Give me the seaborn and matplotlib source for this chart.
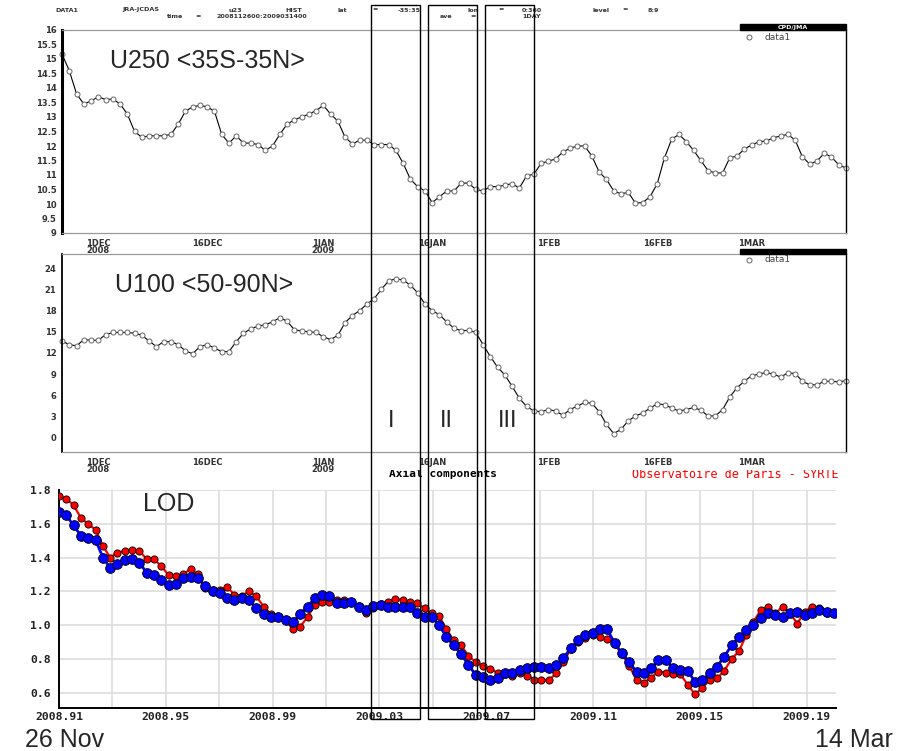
import numpy as np
import pandas as pd
import matplotlib
matplotlib.use("Agg")
import matplotlib.pyplot as plt
from matplotlib.patches import Rectangle
from matplotlib.lines import Line2D
from matplotlib.transforms import Bbox, TransformedBbox
from matplotlib.ticker import FixedLocator
import seaborn as sns

# ---------------------------------------------------------------- data
dates = pd.date_range("2008-11-26", "2009-03-14", freq="D")

u250 = [15.17, 14.6, 13.8, 13.45, 13.55, 13.7, 13.6, 13.62, 13.45, 13.1,
        12.5, 12.3, 12.35, 12.35, 12.35, 12.4, 12.75, 13.2, 13.35, 13.4,
        13.35, 13.2, 12.4, 12.1, 12.35, 12.1, 12.1, 12.05, 11.85, 12.0,
        12.4, 12.75, 12.9, 13.0, 13.1, 13.22, 13.4, 13.1, 12.86, 12.3,
        12.07, 12.2, 12.2, 12.05, 12.05, 12.05, 11.85, 11.4, 10.85, 10.6,
        10.45, 10.05, 10.25, 10.45, 10.45, 10.72, 10.72, 10.5, 10.45, 10.6,
        10.6, 10.65, 10.7, 10.55, 10.97, 11.03, 11.4, 11.48, 11.55, 11.8,
        11.92, 12.0, 12.0, 11.65, 11.1, 10.85, 10.45, 10.35, 10.4, 10.03,
        10.05, 10.25, 10.7, 11.6, 12.24, 12.4, 12.15, 11.85, 11.5, 11.15,
        11.07, 11.07, 11.6, 11.65, 11.9, 12.03, 12.15, 12.17, 12.28, 12.35,
        12.4, 12.2, 11.62, 11.38, 11.48, 11.75, 11.62, 11.35, 11.24]

u100 = [13.66, 13.2, 13.0, 13.9, 13.8, 13.8, 14.6, 14.9, 14.9, 14.9,
        14.8, 14.5, 13.7, 12.9, 13.6, 13.6, 13.2, 12.3, 11.9, 12.9,
        13.2, 12.7, 12.2, 12.2, 13.6, 14.8, 15.4, 15.8, 16.0, 16.4,
        17.0, 16.5, 15.3, 15.1, 15.0, 14.9, 14.3, 13.9, 14.5, 16.3,
        17.3, 18.0, 18.9, 19.7, 21.0, 22.2, 22.5, 22.3, 21.6, 20.5,
        18.9, 18.0, 17.4, 16.4, 15.5, 15.15, 15.2, 14.9, 13.2, 11.5,
        10.0, 8.9, 7.3, 5.6, 4.45, 3.8, 3.7, 4.0, 3.8, 3.2,
        4.0, 4.5, 5.0, 4.9, 3.7, 1.9, 0.6, 1.2, 2.4, 3.1,
        3.5, 4.2, 4.8, 4.7, 4.2, 3.8, 4.0, 4.3, 3.9, 3.1,
        3.1, 4.0, 5.8, 7.1, 8.0, 8.8, 9.0, 9.25, 9.0, 8.6,
        9.2, 9.1, 8.0, 7.5, 7.5, 8.0, 8.0, 7.9, 8.1]

lod_start = 2008.91
lod_days = np.arange(107)
lod_time = lod_start + lod_days / 365.25

lod_red = [1.762, 1.748, 1.71, 1.635, 1.598, 1.565, 1.47, 1.40, 1.43, 1.44,
           1.445, 1.44, 1.39, 1.39, 1.35, 1.295, 1.29, 1.30, 1.334, 1.30,
           1.22, 1.21, 1.21, 1.226, 1.18, 1.175, 1.2, 1.17, 1.11, 1.065,
           1.05, 1.03, 0.975, 0.99, 1.05, 1.12, 1.14, 1.14, 1.15, 1.15,
           1.14, 1.115, 1.075, 1.10, 1.125, 1.14, 1.155, 1.15, 1.14, 1.13,
           1.10, 1.07, 1.055, 0.975, 0.91, 0.88, 0.82, 0.78, 0.76, 0.739,
           0.72, 0.712, 0.697, 0.718, 0.70, 0.677, 0.675, 0.675, 0.715, 0.78,
           0.86, 0.90, 0.925, 0.94, 0.93, 0.92, 0.89, 0.83, 0.76, 0.675,
           0.66, 0.69, 0.725, 0.72, 0.71, 0.71, 0.648, 0.59, 0.63, 0.675,
           0.685, 0.73, 0.80, 0.845, 0.94, 1.02, 1.09, 1.11, 1.07, 1.11,
           1.07, 1.01, 1.08, 1.11, 1.10, 1.075, 1.07]

lod_blue = [1.667, 1.65, 1.59, 1.53, 1.515, 1.505, 1.40, 1.34, 1.365, 1.385,
            1.39, 1.37, 1.31, 1.295, 1.27, 1.24, 1.245, 1.28, 1.285, 1.28,
            1.23, 1.20, 1.19, 1.16, 1.15, 1.16, 1.15, 1.10, 1.065, 1.05,
            1.05, 1.032, 1.02, 1.068, 1.11, 1.16, 1.18, 1.17, 1.13, 1.13,
            1.14, 1.11, 1.09, 1.115, 1.12, 1.11, 1.11, 1.105, 1.105, 1.07,
            1.05, 1.05, 1.0, 0.93, 0.88, 0.83, 0.764, 0.707, 0.695, 0.675,
            0.685, 0.715, 0.715, 0.735, 0.745, 0.75, 0.75, 0.745, 0.764, 0.805,
            0.865, 0.91, 0.943, 0.953, 0.975, 0.975, 0.895, 0.835, 0.78, 0.725,
            0.715, 0.745, 0.794, 0.794, 0.745, 0.735, 0.73, 0.665, 0.675, 0.715,
            0.754, 0.814, 0.88, 0.93, 0.972, 1.0, 1.045, 1.075, 1.06, 1.05,
            1.07, 1.08, 1.06, 1.075, 1.09, 1.08, 1.07]

date_ticks = pd.to_datetime(["2008-12-01", "2008-12-16", "2009-01-01", "2009-01-16",
                             "2009-02-01", "2009-02-16", "2009-03-01"])
date_labels = ["1DEC\n2008", "16DEC", "1JAN\n2009", "16JAN", "1FEB", "16FEB", "1MAR"]

u250_ticks = np.arange(9, 16.01, 0.5)
u100_ticks = np.arange(0, 24.1, 3)
lod_yticks = np.arange(0.6, 1.81, 0.2)
lod_xticks = [2008.91, 2008.95, 2008.99, 2009.03, 2009.07, 2009.11, 2009.15, 2009.19]
lod_xminor = [2008.93, 2008.97, 2009.01, 2009.05, 2009.09, 2009.13, 2009.17]

# ---------------------------------------------------------------- figure
sns.set_style("white")
plt.rcParams["font.family"] = ["Liberation Sans", "DejaVu Sans"]

W, H = 903, 751
fig = plt.figure(figsize=(W / 100, H / 100), dpi=100)
fig.patch.set_facecolor("white")


def fx(x):
    return x / W


def fy(y):
    return 1 - y / H


def px_rect(l, t, r, b):
    return [l / W, 1 - b / H, (r - l) / W, (b - t) / H]


small = dict(family="DejaVu Sans", weight="bold", size=4.6, color="#333333")


def style_grads_axis(ax, left_lw):
    ax.set_facecolor("white")
    for side in ("top", "bottom"):
        ax.spines[side].set_color("#9a9a9a")
        ax.spines[side].set_linewidth(0.9)
    ax.spines["left"].set_color("black")
    ax.spines["left"].set_linewidth(left_lw)
    ax.spines["right"].set_color("black")
    ax.spines["right"].set_linewidth(1.0)
    ax.set_xlim(dates[0], dates[-1])
    ax.set_xticks(date_ticks)
    ax.set_xticklabels(date_labels, linespacing=0.75)
    ax.tick_params(axis="both", direction="out", length=2.5, width=0.8,
                   color="#555555", pad=1.5)
    for lab in ax.get_xticklabels() + ax.get_yticklabels():
        lab.set_fontfamily("DejaVu Sans")
        lab.set_fontweight("bold")
        lab.set_fontsize(6)
        lab.set_color("#333333")
    ax.set_xlabel("")
    ax.set_ylabel("")


grads_line = dict(color="black", linewidth=0.8, marker="o", markersize=3.6,
                  markerfacecolor="white", markeredgecolor="#666666",
                  markeredgewidth=0.7, clip_on=False)

# U250 panel
ax1 = fig.add_axes(px_rect(62, 30, 846, 233))
sns.lineplot(x=dates, y=u250, ax=ax1, **grads_line)
ax1.set_ylim(9, 16)
ax1.set_yticks(u250_ticks)
ax1.set_yticklabels([f"{v:g}" for v in u250_ticks])
style_grads_axis(ax1, 2.2)

# U100 panel
ax2 = fig.add_axes(px_rect(62, 254, 846, 452))
sns.lineplot(x=dates, y=u100, ax=ax2, **grads_line)
ax2.set_ylim(-2, 26)
ax2.set_yticks(u100_ticks)
ax2.set_yticklabels([f"{v:g}" for v in u100_ticks])
style_grads_axis(ax2, 1.3)

# LOD panel
ax3 = fig.add_axes(px_rect(59, 490, 836, 708))
sns.lineplot(x=lod_time, y=lod_red, ax=ax3, color="red", linewidth=1.6,
             marker="o", markersize=5.2, markerfacecolor="red",
             markeredgecolor="black", markeredgewidth=0.6, zorder=3)
sns.lineplot(x=lod_time, y=lod_blue, ax=ax3, color="blue", linewidth=2.0,
             marker="o", markersize=7.0, markerfacecolor="blue",
             markeredgecolor="black", markeredgewidth=0.6, zorder=4)
ax3.set_xlim(2008.91, 2009.201)
ax3.set_ylim(0.51, 1.8)
ax3.xaxis.set_major_locator(FixedLocator(lod_xticks))
ax3.xaxis.set_minor_locator(FixedLocator(lod_xminor))
ax3.set_xticklabels([f"{v:.2f}" for v in lod_xticks])
ax3.set_yticks(lod_yticks)
ax3.set_yticklabels([f"{v:.1f}" for v in lod_yticks])
ax3.yaxis.set_minor_locator(FixedLocator(np.arange(0.7, 1.8, 0.2)))
ax3.grid(True, which="major", color="#dddddd", linewidth=1.2)
ax3.grid(True, which="minor", axis="x", color="#dddddd", linewidth=1.2)
ax3.set_axisbelow(True)
for side in ("top", "right"):
    ax3.spines[side].set_visible(False)
for side in ("left", "bottom"):
    ax3.spines[side].set_color("black")
    ax3.spines[side].set_linewidth(1.4)
ax3.tick_params(axis="x", which="both", length=0, pad=3)
ax3.tick_params(axis="y", which="both", direction="in", length=5, width=1,
                color="#444444", pad=6)
for lab in ax3.get_xticklabels() + ax3.get_yticklabels():
    lab.set_fontfamily("DejaVu Sans Mono")
    lab.set_fontweight("bold")
    lab.set_fontsize(8.2)
    lab.set_color("#222222")
ax3.set_xlabel("")
ax3.set_ylabel("")

# ---------------------------------------------------------------- annotations
fig.text(fx(110), fy(68), "U250 <35S-35N>", fontsize=18)
fig.text(fx(115), fy(292), "U100 <50-90N>", fontsize=18)
fig.text(fx(143), fy(511), "LOD", fontsize=18)
fig.text(fx(25), fy(747), "26 Nov", fontsize=18)
fig.text(fx(815), fy(747), "14 Mar", fontsize=18)
for label, xc in (("I", 391), ("II", 446), ("III", 508)):
    fig.text(fx(xc), fy(427), label, fontsize=17, ha="center")

# header lines
header1 = [("DATA1", 55), ("JRA-JCDAS", 122), ("u23", 229), ("HIST", 285),
           ("lat", 338), ("=", 372), ("-35:35", 398), ("lon", 468), ("=", 498),
           ("0:360", 522), ("level", 593), ("=", 622), ("8:9", 648)]
header2 = [("time", 167), ("=", 195), ("2008112600:2009031400", 217),
           ("ave", 440), ("=", 470), ("1DAY", 522)]
for s, x in header1:
    fig.text(fx(x), fy(11.5), s, va="baseline", **small)
for s, x in header2:
    fig.text(fx(x), fy(18.5), s, va="baseline", **small)

# data-source legends
for top, bottom, lab_y, show_title in ((24, 30, 37, True), (249, 254, 260, False)):
    fig.add_artist(Rectangle((fx(740), fy(bottom)), (846 - 740) / W, (bottom - top) / H,
                             transform=fig.transFigure, facecolor="black",
                             edgecolor="black", zorder=5))
    if show_title:
        fig.text(fx(793), fy(27.5), "CPD/JMA", ha="center", va="center",
                 family="DejaVu Sans", weight="bold", size=4.5, color="white", zorder=6)
    fig.add_artist(Line2D([fx(749)], [fy(lab_y)], marker="o", markersize=3.6,
                          markerfacecolor="white", markeredgecolor="#666666",
                          markeredgewidth=0.7, transform=fig.transFigure))
    fig.text(fx(765), fy(lab_y), "data1", va="center", family="DejaVu Sans",
             size=6.5, color="#444444")

# LOD panel titles, partly hidden under the panel above
clip = TransformedBbox(Bbox([[0, 0], [1, fy(470)]]), fig.transFigure)
t1 = fig.text(fx(443), fy(477), "Axial components", ha="center", va="baseline",
              family="DejaVu Sans Mono", weight="bold", size=8.0, color="black")
t2 = fig.text(fx(735), fy(478), "Observatoire de Paris - SYRTE", ha="center",
              va="baseline", family="DejaVu Sans Mono", size=8.5, color="red")
for t in (t1, t2):
    t.set_clip_box(clip)
    t.set_clip_on(True)

# event windows I, II, III spanning all panels
for left, right in ((371, 420), (428, 477), (485, 534)):
    fig.add_artist(Rectangle((fx(left), fy(719)), (right - left) / W, (719 - 5) / H,
                             transform=fig.transFigure, fill=False,
                             edgecolor="black", linewidth=1.0, zorder=10))

fig.savefig("out.png", dpi=100, facecolor="white")
